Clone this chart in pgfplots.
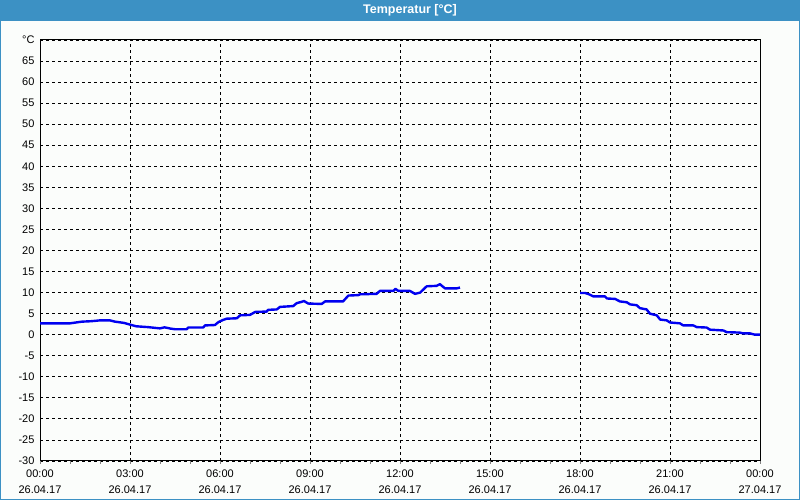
\documentclass[border=0pt]{standalone}
\usepackage{pgfplots}
\pgfplotsset{compat=1.18}
\usepackage{fontspec}
\setmainfont{Liberation Sans}
\definecolor{barblue}{HTML}{3C91C4}
\definecolor{bgc}{HTML}{FBFDFB}
\definecolor{lineblue}{HTML}{0000F0}
\begin{document}
\begin{tikzpicture}
\fill[bgc] (0pt,0pt) rectangle (800pt,500pt);
\fill[barblue] (0pt,479pt) rectangle (800pt,500pt);
\draw[barblue,line width=1.2pt] (0.6pt,0.6pt) rectangle (799.4pt,499.4pt);
\node[text=white,font=\fontsize{12.5}{14}\selectfont\bfseries] at (410pt,489.5pt) {Temperatur [°C]};
\begin{axis}[
  at={(40pt,39pt)}, anchor=south west,
  scale only axis, width=720pt, height=421pt,
  xmin=0, xmax=24, ymin=-30, ymax=70,
  xtick={0,3,...,24},
  xticklabels={{00:00\\26.04.17},{03:00\\26.04.17},{06:00\\26.04.17},{09:00\\26.04.17},{12:00\\26.04.17},{15:00\\26.04.17},{18:00\\26.04.17},{21:00\\26.04.17},{00:00\\27.04.17}},
  xticklabel style={align=center, font=\fontsize{11}{16}\selectfont, yshift=-2pt},
  minor x tick num=2,
  tick align=outside,
  major tick length=3pt, minor tick length=3pt,
  ytick={-30,-25,...,70},
  yticklabels={-30,-25,-20,-15,-10,-5,0,5,10,15,20,25,30,35,40,45,50,55,60,65,°C},
  yticklabel style={font=\fontsize{11}{12}\selectfont, xshift=1pt},
  ytick style={draw=none},
  xtick pos=bottom,
  grid=major,
  major grid style={black, line width=0.8pt, dash pattern=on 3pt off 3pt},
  axis line style={black, line width=1pt},
  /pgf/number format/assume math mode=true,
  axis background/.style={fill=bgc},
]
\addplot[lineblue, line width=2.4pt, line join=round] coordinates {
(0,2.7) (1.0,2.7) (1.2,2.9) (1.4,3.1) (1.7,3.2) (2.0,3.4) (2.33,3.4) (2.5,3.1) (2.8,2.8) (3.0,2.4) (3.2,2.0) (3.6,1.8) (4.0,1.5) (4.15,1.75) (4.35,1.45) (4.5,1.3) (4.89,1.3) (4.94,1.7) (5.44,1.7) (5.5,2.2) (5.83,2.3) (5.95,3.0) (6.1,3.5) (6.22,3.8) (6.56,3.9) (6.67,4.6) (7.0,4.7) (7.17,5.4) (7.56,5.5) (7.6,5.9) (7.89,6.0) (8.0,6.6) (8.44,6.8) (8.56,7.5) (8.72,7.8) (8.8,8.0) (8.94,7.4) (9.39,7.3) (9.5,7.9) (10.1,7.9) (10.28,9.3) (10.61,9.4) (10.67,9.6) (11.22,9.7) (11.33,10.4) (11.78,10.4) (11.85,10.9) (11.94,10.4) (12.33,10.4) (12.5,9.7) (12.67,10.0) (12.89,11.5) (13.22,11.6) (13.33,12.0) (13.5,11.0) (13.89,11.0) (14.0,11.2)
};
\addplot[lineblue, line width=2.4pt, line join=round] coordinates {
(18.0,9.9) (18.17,9.9) (18.3,9.6) (18.44,9.1) (18.83,9.1) (18.9,8.6) (19.17,8.5) (19.33,7.9) (19.56,7.7) (19.67,7.2) (19.89,7.0) (20.0,6.3) (20.22,6.0) (20.33,5.0) (20.56,4.6) (20.67,3.6) (20.89,3.4) (21.0,2.9) (21.33,2.7) (21.44,2.2) (21.78,2.2) (21.89,1.8) (22.22,1.7) (22.33,1.2) (22.78,1.0) (22.89,0.6) (23.33,0.5) (23.44,0.3) (23.67,0.3) (23.83,0.0) (24.0,0.0)
};
\end{axis}
\end{tikzpicture}
\end{document}
